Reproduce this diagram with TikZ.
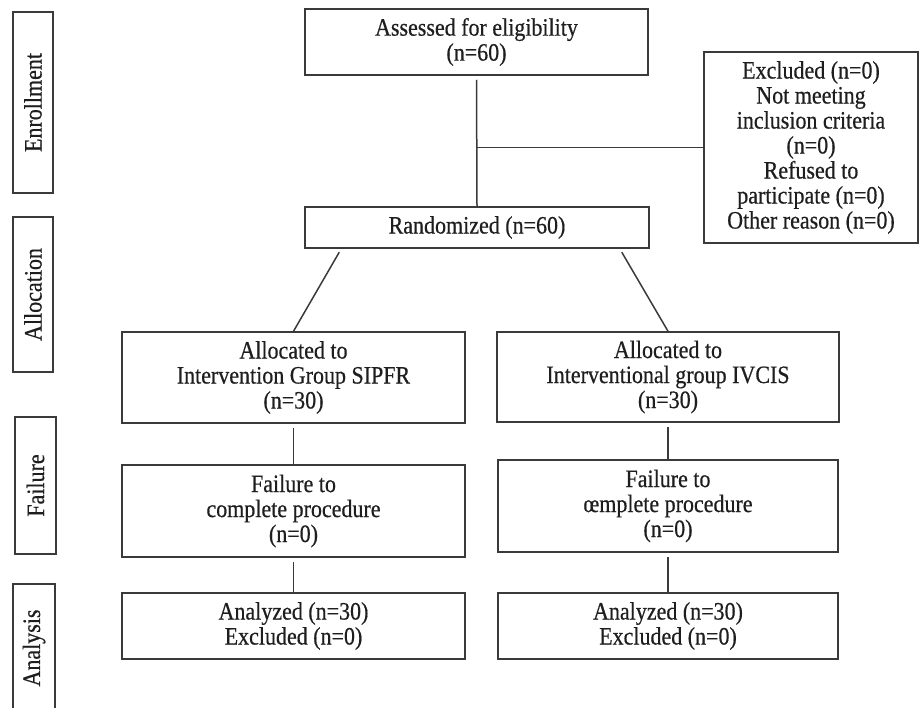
\documentclass[tikz,border=0pt]{standalone}
\usepackage{fontspec}
\setmainfont{Liberation Serif}[FakeStretch=0.88, FakeBold=0.5]
\definecolor{frame}{HTML}{3A3A3A}
\definecolor{ink}{HTML}{1E1E1E}

\begin{document}
\begin{tikzpicture}[x=1pt, y=-1pt,
  box/.style={draw=frame, line width=1.5pt, align=center, inner sep=0pt,
    text=ink, font=\fontsize{25}{25}\selectfont},
  sidebox/.style={box, rotate=90, minimum height=40pt},
  link/.style={draw=frame, line width=1.5pt, shorten <=4pt}]

\useasboundingbox (0,0) rectangle (923,707);

% Stage labels
\node[sidebox, minimum width=181pt] (sEnrol) at (33, 102.5) {Enrollment};
\node[sidebox, minimum width=155pt] (sAlloc) at (33, 294.5) {Allocation};
\node[sidebox, minimum width=137pt, minimum height=41pt] (sFail) at (35.5, 485.5) {Failure};
\node[sidebox, minimum width=128pt, minimum height=42pt] (sAna) at (34, 648) {Analysis};

% Enrollment
\node[box, minimum width=343pt, minimum height=66pt] (assess) at (476.5, 42) {Assessed for eligibility\\(n=60)};
\node[box, minimum width=214pt, minimum height=191pt] (excl) at (811, 147.5)
  {Excluded (n=0)\\Not meeting\\inclusion criteria\\(n=0)\\Refused to\\participate (n=0)\\Other reason (n=0)};
\node[box, minimum width=344pt, minimum height=41pt] (rand) at (477, 227.5) {Randomized (n=60)};

% Allocation
\node[box, minimum width=343pt, minimum height=91pt] (allocL) at (293.5, 377.5) {Allocated to\\Intervention Group SIPFR\\(n=30)};
\node[box, minimum width=342pt, minimum height=90pt] (allocR) at (668, 377) {Allocated to\\Interventional group IVCIS\\(n=30)};

% Failure
\node[box, minimum width=343pt, minimum height=92pt] (failL) at (293.5, 511) {Failure to\\complete procedure\\(n=0)};
\node[box, minimum width=340pt, minimum height=92pt] (failR) at (668, 506) {Failure to\\œmplete procedure\\(n=0)};

% Analysis
\node[box, minimum width=343pt, minimum height=66pt] (anaL) at (293.5, 626) {Analyzed (n=30)\\Excluded (n=0)};
\node[box, minimum width=340pt, minimum height=66pt] (anaR) at (668, 626) {Analyzed (n=30)\\Excluded (n=0)};

% Connectors
\draw[link] (assess.south) -- (rand.north);
\draw[draw=frame, line width=1.5pt] (assess.south |- excl.west) -- (excl.west);
\draw[link] ([xshift=37pt]rand.south west) -- (allocL.north);
\draw[link] ([xshift=-30pt]rand.south east) -- (allocR.north);
\draw[link] (allocL.south) -- (failL.north);
\draw[link] (allocR.south) -- (failR.north);
\draw[link] (failL.south) -- (anaL.north);
\draw[link] (failR.south) -- (anaR.north);

\end{tikzpicture}
\end{document}
